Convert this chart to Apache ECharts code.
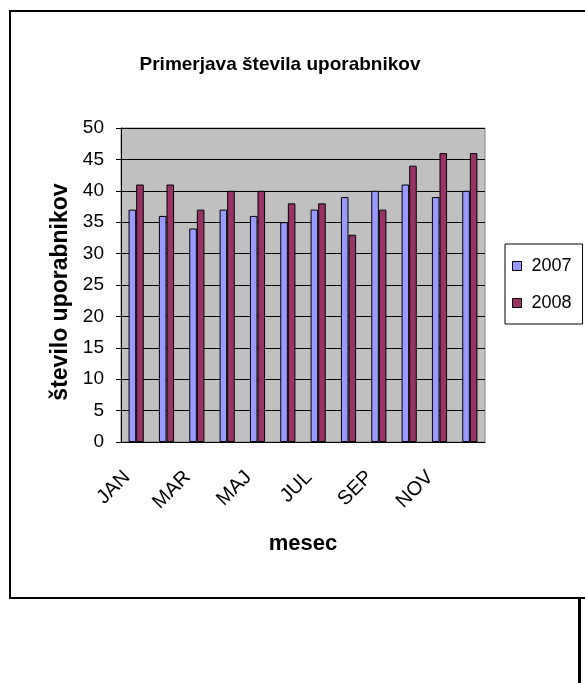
<!DOCTYPE html>
<html>
<head>
<meta charset="utf-8">
<script src="https://cdn.jsdelivr.net/npm/echarts@6/dist/echarts.min.js"></script>
<style>
  html, body { margin: 0; padding: 0; background: #fff; }
  #chart { width: 585px; height: 683px; }
</style>
</head>
<body>
<div id="chart"></div>
<script>
// months (only every other one gets a label, like the original)
var months = ['JAN', 'FEB', 'MAR', 'APR', 'MAJ', 'JUN', 'JUL', 'AVG', 'SEP', 'OKT', 'NOV', 'DEC'];
var users2007 = [37, 36, 34, 37, 36, 35, 37, 39, 40, 41, 39, 40];
var users2008 = [41, 41, 37, 40, 40, 38, 38, 33, 37, 44, 46, 46];
var yTicks = [0, 5, 10, 15, 20, 25, 30, 35, 40, 45, 50];

var font = 'Liberation Sans, Arial, sans-serif';
var chart = echarts.init(document.getElementById('chart'));

chart.setOption({
  animation: false,
  color: ['#9999ff', '#993366'],
  title: {
    text: 'Primerjava števila uporabnikov',
    left: 275,
    top: 50,
    textAlign: 'center',
    textStyle: { fontFamily: font, fontSize: 19, fontWeight: 'bold', color: '#000' }
  },
  legend: {
    orient: 'vertical',
    left: 505,
    top: 244,
    padding: [13, 11, 12, 7],
    itemGap: 19,
    itemWidth: 9,
    itemHeight: 9,
    borderColor: '#000',
    borderWidth: 1,
    icon: 'rect',
    itemStyle: { borderColor: '#000', borderWidth: 1 },
    textStyle: { fontFamily: font, fontSize: 18, color: '#000', padding: [0, 0, 0, 5] },
    data: ['2007', '2008']
  },
  grid: {
    left: 121,
    right: 100,
    top: 128,
    bottom: 241,
    show: true,
    backgroundColor: '#c0c0c0',
    borderColor: '#808080',
    borderWidth: 1
  },
  xAxis: {
    type: 'category',
    data: months,
    name: 'mesec',
    nameLocation: 'middle',
    nameGap: 91,
    nameTextStyle: { fontFamily: font, fontSize: 22, fontWeight: 'bold', color: '#000' },
    axisLine: { lineStyle: { color: '#000', width: 1 } },
    axisTick: { interval: 0, length: 5, lineStyle: { color: '#000' } },
    axisLabel: {
      interval: 1,
      rotate: 45,
      margin: 23,
      padding: [0, 13, 0, 0],
      fontFamily: font,
      fontSize: 20,
      color: '#000'
    },
    splitLine: { show: false }
  },
  yAxis: {
    type: 'value',
    min: yTicks[0],
    max: yTicks[yTicks.length - 1],
    interval: yTicks[1] - yTicks[0],
    name: 'število uporabnikov',
    nameLocation: 'middle',
    nameGap: 42,
    nameRotate: 90,
    nameTextStyle: { fontFamily: font, fontSize: 23, fontWeight: 'bold', color: '#000', padding: [0, 14, 0, 0] },
    axisLine: { show: true, lineStyle: { color: '#000', width: 1 } },
    axisTick: { show: true, length: 5, lineStyle: { color: '#000' } },
    axisLabel: { fontFamily: font, fontSize: 19, color: '#000', margin: 17 },
    splitLine: { lineStyle: { color: '#000', width: 1 } }
  },
  series: [
    {
      name: '2007',
      type: 'bar',
      data: users2007,
      barGap: '0%',
      barCategoryGap: '50%',
      itemStyle: { borderColor: '#000', borderWidth: 1 }
    },
    {
      name: '2008',
      type: 'bar',
      data: users2008,
      itemStyle: { borderColor: '#000', borderWidth: 1 }
    }
  ],
  graphic: [
    {
      type: 'rect',
      shape: { x: 10, y: 11, width: 600, height: 587 },
      style: { fill: null, stroke: '#000', lineWidth: 2 },
      silent: true
    },
    {
      type: 'line',
      shape: { x1: 579.5, y1: 599, x2: 579.5, y2: 683 },
      style: { stroke: '#000', lineWidth: 3 },
      silent: true
    }
  ]
});
</script>
</body>
</html>
